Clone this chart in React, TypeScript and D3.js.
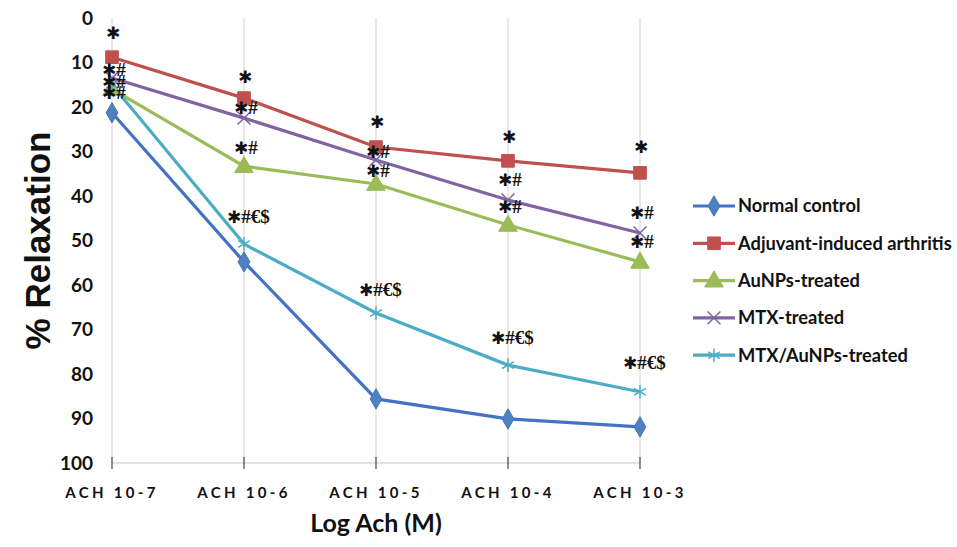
import React from "react";
import * as d3 from "d3";

// categories on the x axis
const categories = ["ACH 10-7", "ACH 10-6", "ACH 10-5", "ACH 10-4", "ACH 10-3"];
const yTicks = [0, 10, 20, 30, 40, 50, 60, 70, 80, 90, 100];

// % relaxation values
const normalControl = [21.3, 54.8, 85.6, 90.1, 91.9];
const adjuvantArthritis = [8.8, 18.0, 29.0, 32.1, 34.8];
const aunpsTreated = [16.0, 33.3, 37.3, 46.5, 54.8];
const mtxTreated = [13.5, 22.5, 31.9, 40.9, 48.3];
const mtxAunpsTreated = [15.0, 50.8, 66.3, 78.0, 84.0];

// significance marks per series
const normalMarks = ["", "", "", "", ""];
const adjuvantMarks = ["*", "*", "*", "*", "*"];
const aunpsMarks = ["*#", "*#", "*#", "*#", "*#"];
const mtxMarks = ["*#", "*#", "*#", "*#", "*#"];
const mtxAunpsMarks = ["*#", "*#€$", "*#€$", "*#€$", "*#€$"];

// styling; markDy = pixel offset of the mark label from its point
const series = [
  { name: "Normal control", values: normalControl, marks: normalMarks, color: "#4472C4", fill: "#4F81BD", shape: "diamond", markDy: [0, 0, 0, 0, 0] },
  { name: "Adjuvant-induced arthritis", values: adjuvantArthritis, marks: adjuvantMarks, color: "#C0504D", fill: "#C0504D", shape: "square", markDy: [-25, -22, -25, -24, -26] },
  { name: "AuNPs-treated", values: aunpsTreated, marks: aunpsMarks, color: "#9BBB59", fill: "#9BBB59", shape: "triangle", markDy: [3, -19, -13, -18, -20] },
  { name: "MTX-treated", values: mtxTreated, marks: mtxMarks, color: "#8064A2", fill: "#8064A2", shape: "times", markDy: [-8, -11, -8, -20, -20] },
  { name: "MTX/AuNPs-treated", values: mtxAunpsTreated, marks: mtxAunpsMarks, color: "#4BACC6", fill: "#4BACC6", shape: "asterisk", markDy: [-3, -27, -23, -28, -29] },
];

const W = 957, H = 547;
const margin = { top: 18, left: 112, right: 317, bottom: 84 };

function Marker({ shape, x, y, color, fill }) {
  if (shape === "diamond") {
    return <path d={d3.symbol(d3.symbolDiamond, 120)()} transform={`translate(${x},${y})`} fill={fill} stroke={color} strokeWidth={1} />;
  }
  if (shape === "square") {
    return <path d={d3.symbol(d3.symbolSquare, 160)()} transform={`translate(${x},${y})`} fill={fill} stroke={color} strokeWidth={1} />;
  }
  if (shape === "triangle") {
    return <path d={d3.symbol(d3.symbolTriangle, 150)()} transform={`translate(${x},${y + 1})`} fill={fill} stroke={color} strokeWidth={1} />;
  }
  if (shape === "times") {
    return <path d={d3.symbol(d3.symbolTimes, 110)()} transform={`translate(${x},${y})`} fill="none" stroke={color} strokeWidth={1.5} />;
  }
  return <path d={d3.symbol(d3.symbolAsterisk, 130)()} transform={`translate(${x},${y})`} fill="none" stroke={color} strokeWidth={1.5} />;
}

function Mark({ text, x, y }) {
  if (!text) return null;
  const rest = text.slice(1);
  const startX = rest.length > 1 ? x - 17 : rest.length === 1 ? x - 10 : x - 6;
  return (
    <text x={startX} y={y} dy="0.4em" fill="#111">
      <tspan style={{ fontFamily: "DejaVu Sans", fontSize: 17, fontWeight: 700 }}>✱</tspan>
      {rest && <tspan style={{ fontFamily: "Liberation Serif", fontSize: 19, fontWeight: 700 }} dx={0}>{rest}</tspan>}
    </text>
  );
}

export default function App() {
  const x = d3.scalePoint().domain(categories).range([margin.left, W - margin.right]);
  const y = d3.scaleLinear().domain([0, 100]).range([margin.top, H - margin.bottom]);
  const line = d3.line<number>().x((_, i) => x(categories[i])).y((d) => y(d));
  const y0 = y(100);

  return (
    <svg width={W} height={H} style={{ position: "absolute", left: 0, top: 0, background: "#fff" }}>
      {/* vertical gridlines */}
      {categories.map((c) => (
        <line key={c} x1={x(c)} x2={x(c)} y1={y(0)} y2={y0} stroke="#d9d9d9" strokeWidth={1.2} />
      ))}
      {/* x axis */}
      <line x1={x(categories[0])} x2={x(categories[categories.length - 1])} y1={y0} y2={y0} stroke="#d9d9d9" strokeWidth={1.5} />
      {categories.map((c) => (
        <line key={"t" + c} x1={x(c)} x2={x(c)} y1={y0 - 6} y2={y0 + 6} stroke="#555" strokeWidth={1.3} />
      ))}
      {categories.map((c) => (
        <text key={"l" + c} x={x(c)} y={y0 + 35} textAnchor="middle"
          style={{ fontFamily: "Lato", fontWeight: 700, fontSize: 15, letterSpacing: 3.3 }} fill="#111">{c}</text>
      ))}
      {/* y tick labels */}
      {yTicks.map((t) => (
        <text key={"y" + t} x={93} y={y(t)} dy="0.35em" textAnchor="end"
          style={{ fontFamily: "Lato", fontWeight: 700, fontSize: 19 }} fill="#111">{t}</text>
      ))}
      {/* axis titles */}
      <text transform={`translate(50,${(y(0) + y0) / 2}) rotate(-90)`} textAnchor="middle"
        style={{ fontFamily: "Liberation Sans", fontWeight: 700, fontSize: 35 }} fill="#111">% Relaxation</text>
      <text x={(x(categories[0]) + x(categories[4])) / 2} y={532} textAnchor="middle"
        style={{ fontFamily: "Lato", fontWeight: 700, fontSize: 25 }} fill="#111">Log Ach (M)</text>

      {/* series lines */}
      {series.map((s) => (
        <path key={"p" + s.name} d={line(s.values)} fill="none" stroke={s.color} strokeWidth={3.2} />
      ))}
      {series.map((s) =>
        s.values.map((v, i) => (
          <Marker key={s.name + i} shape={s.shape} x={x(categories[i])} y={y(v)} color={s.color} fill={s.fill} />
        ))
      )}
      {/* significance marks */}
      {series.map((s) =>
        s.marks.map((m, i) => (
          <Mark key={"m" + s.name + i} text={m} x={x(categories[i])} y={y(s.values[i]) + s.markDy[i]} />
        ))
      )}

      {/* legend */}
      {series.map((s, i) => {
        const ly = 206 + i * 37.3;
        return (
          <g key={"lg" + s.name}>
            <line x1={693} x2={735} y1={ly} y2={ly} stroke={s.color} strokeWidth={3.2} />
            <Marker shape={s.shape} x={714} y={ly} color={s.color} fill={s.fill} />
            <text x={738} y={ly} dy="0.35em" style={{ fontFamily: "Lato", fontWeight: 700, fontSize: 18.3 }} fill="#111">{s.name}</text>
          </g>
        );
      })}
    </svg>
  );
}
